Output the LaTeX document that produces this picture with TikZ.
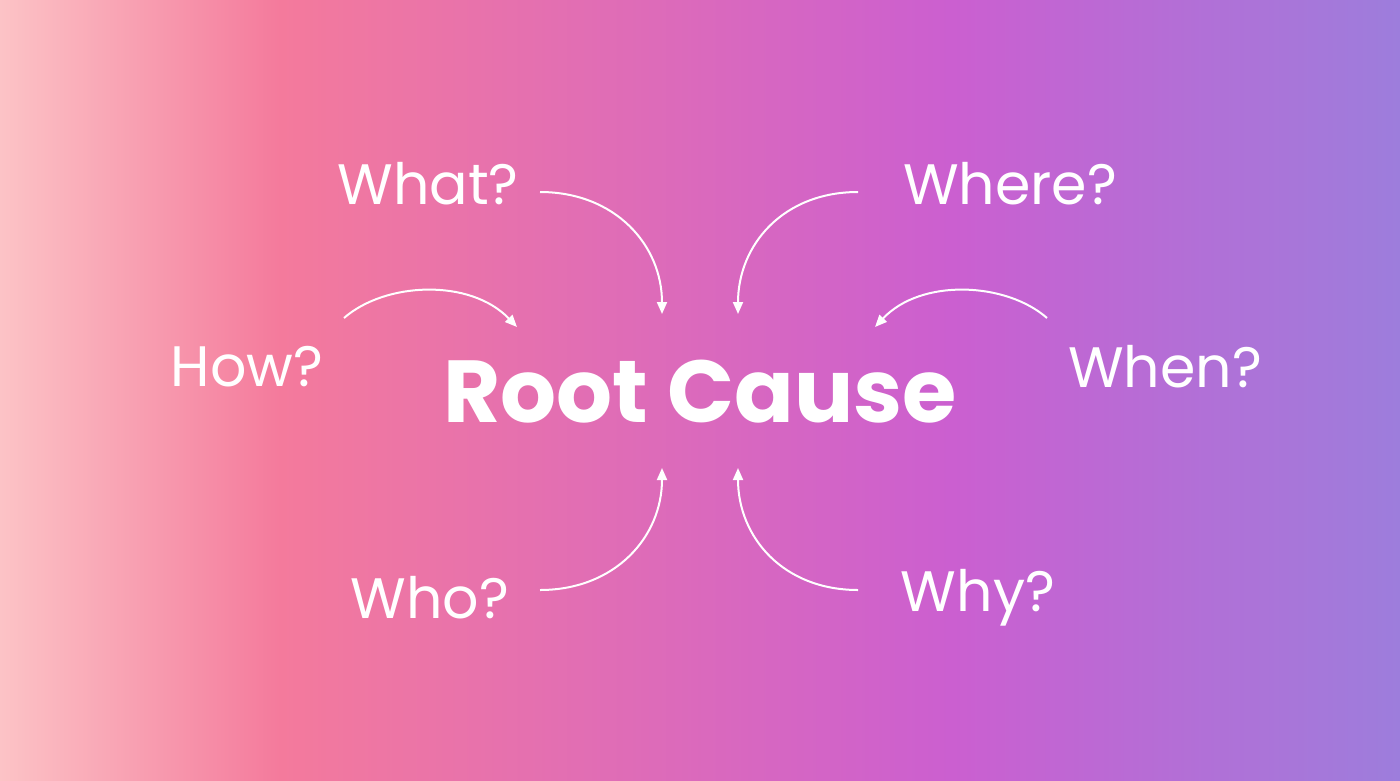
\documentclass[tikz,border=0pt]{standalone}
\usepackage{fontspec}
\setmainfont{Poppins}
\usetikzlibrary{arrows.meta}
\definecolor{bgA}{HTML}{FCC3C6}
\definecolor{bgB}{HTML}{F47A9C}
\definecolor{bgC}{HTML}{CB5FD0}
\definecolor{bgD}{HTML}{9D7DDC}
\pgfdeclarehorizontalshading{rootbg}{100bp}{%
  color(0bp)=(bgA); color(25bp)=(bgA); color(35bp)=(bgB); color(59bp)=(bgC);
  color(75bp)=(bgD); color(100bp)=(bgD)}
\tikzset{
  question/.style={text=white, font=\fontsize{57}{60}\selectfont},
  rootnode/.style={text=white, font=\fontsize{88}{90}\selectfont\bfseries},
  curvearrow/.style={white, line width=2pt, -{Triangle[length=12pt,width=10pt]}}
}
\begin{document}
\begin{tikzpicture}[x=1pt,y=-1pt]
\shade[shading=rootbg] (0,0) rectangle (1400,780);
\useasboundingbox (0,0) rectangle (1400,780);

% --- Labels
\node[rootnode] (root) at (700,392) {Root Cause};
\node[question] (what) at (428,184) {What?};
\node[question] (where) at (1010,184) {Where?};
\node[question] (how) at (247,367) {How?};
\node[question] (when) at (1165,367) {When?};
\node[question] (who) at (430,598) {Who?};
\node[question] (why) at (978,598) {Why?};

% --- Arrow ends
\coordinate (whatS) at (540,192);   \coordinate (whatE) at (662,314);
\coordinate (whereS) at (858,192);  \coordinate (whereE) at (738,314);
\coordinate (howS) at (344,318);    \coordinate (howE) at (517,327);
\coordinate (whenS) at (1047,318);  \coordinate (whenE) at (875,327);
\coordinate (whoS) at (540,590);    \coordinate (whoE) at (662,468);
\coordinate (whyS) at (858,590);    \coordinate (whyE) at (738,468);

% --- Arrows
\draw[curvearrow] (whatS) .. controls (615,192) and (662,245) .. (whatE);
\draw[curvearrow] (whereS) .. controls (783,192) and (738,245) .. (whereE);
\draw[curvearrow] (howS) .. controls (385,282) and (470,278) .. (howE);
\draw[curvearrow] (whenS) .. controls (1006,282) and (921,278) .. (whenE);
\draw[curvearrow] (whoS) .. controls (615,590) and (662,537) .. (whoE);
\draw[curvearrow] (whyS) .. controls (783,590) and (738,537) .. (whyE);
\end{tikzpicture}
\end{document}
